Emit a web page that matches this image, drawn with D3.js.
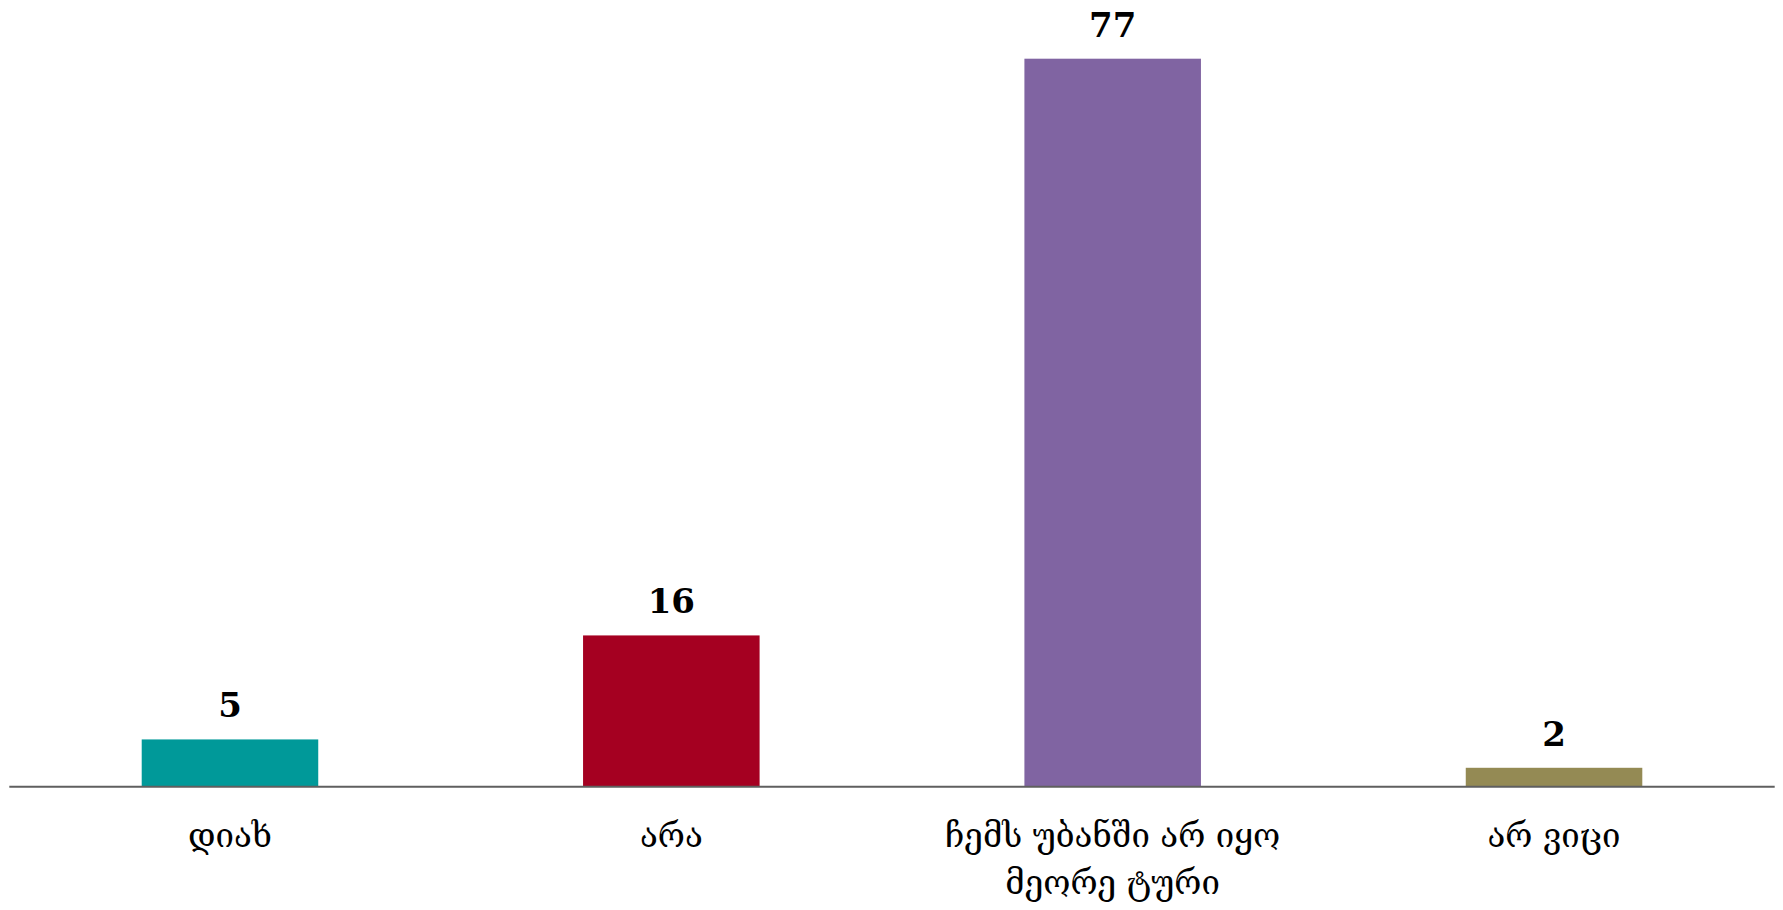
<!DOCTYPE html>
<html><head><meta charset="utf-8">
<script src="https://cdn.jsdelivr.net/npm/d3@7"></script>
<style>body{margin:0;background:#fff}svg{display:block}</style>
</head><body>
<script>
const categories = [["დიახ"], ["არა"], ["ჩემს უბანში არ იყო", "მეორე ტური"], ["არ ვიცი"]];
const values = [5, 16, 77, 2];
const colors = ["#009999", "#A50021", "#8064A2", "#948A54"];

const W = 1783, H = 910;
const svg = d3.select("body").append("svg").attr("width", W).attr("height", H);
const mLeft = 9.3, mRight = 1774.7, mBase = 786.7, mTop = 58.7;
const x = d3.scaleBand().domain(d3.range(values.length)).range([mLeft, mRight]).paddingInner(0.6).paddingOuter(0.3);
const y = d3.scaleLinear().domain([0, 77]).range([mBase, mTop]);

svg.selectAll("rect.bar").data(values).join("rect")
  .attr("x", (d,i)=>x(i)).attr("width", x.bandwidth())
  .attr("y", d=>y(d)).attr("height", d=>mBase - y(d))
  .attr("fill", (d,i)=>colors[i]);

svg.append("line").attr("x1", mLeft).attr("x2", mRight).attr("y1", mBase).attr("y2", mBase)
  .attr("stroke", "#5f5f5f").attr("stroke-width", 2);

svg.selectAll("text.val").data(values).join("text")
  .attr("x", (d,i)=>x(i)+x.bandwidth()/2).attr("y", d=>y(d)-22)
  .attr("text-anchor", "middle")
  .attr("font-family", "DejaVu Serif").attr("font-weight", "bold").attr("font-size", 34)
  .attr("fill", "#000").text(d=>d);

const g = svg.selectAll("text.cat").data(categories).join("text")
  .attr("text-anchor", "middle")
  .attr("font-family", "DejaVu Serif, DejaVu Sans").attr("font-size", 33).attr("fill", "#000");
g.each(function(lines, i){
  d3.select(this).selectAll("tspan").data(lines).join("tspan")
    .attr("x", x(i)+x.bandwidth()/2).attr("y", (l,j)=>847 + j*47).text(l=>l);
});
</script>
</body></html>
